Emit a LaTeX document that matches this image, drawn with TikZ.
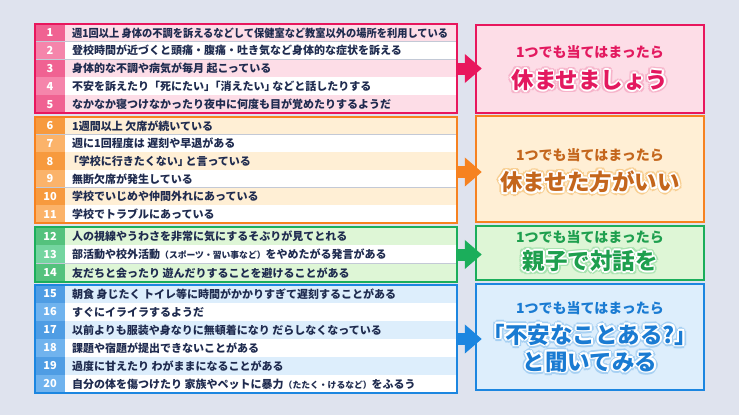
\documentclass[tikz,border=0pt]{standalone}
\usepackage{fontspec}
\setmainfont{Noto Sans CJK JP}
\usetikzlibrary{arrows.meta}
\definecolor{bg}{HTML}{DFE3EE}
\definecolor{navy}{HTML}{1F2B4F}
\definecolor{sepc}{HTML}{C3C9D6}
\definecolor{pinkB}{HTML}{E8175D}
\definecolor{pinkN1}{HTML}{F06292}
\definecolor{pinkN2}{HTML}{F585AB}
\definecolor{pinkL}{HTML}{FDDDE7}
\definecolor{pinkT}{HTML}{E3195F}
\definecolor{pinkH}{HTML}{F7B3CA}
\definecolor{orangeB}{HTML}{F68220}
\definecolor{orangeN1}{HTML}{F79A3E}
\definecolor{orangeN2}{HTML}{FBB36A}
\definecolor{orangeL}{HTML}{FFEFD5}
\definecolor{orangeT}{HTML}{C4661C}
\definecolor{orangeH}{HTML}{F8CD8E}
\definecolor{greenB}{HTML}{1BAE5B}
\definecolor{greenN1}{HTML}{54C27D}
\definecolor{greenN2}{HTML}{74D5A0}
\definecolor{greenL}{HTML}{DEF6D6}
\definecolor{greenT}{HTML}{1E9F4E}
\definecolor{greenH}{HTML}{A8E4B0}
\definecolor{blueB}{HTML}{1C86E0}
\definecolor{blueN1}{HTML}{4F9DE4}
\definecolor{blueN2}{HTML}{70B3EE}
\definecolor{blueL}{HTML}{DDEEFC}
\definecolor{blueT}{HTML}{1A7BD2}
\definecolor{blueH}{HTML}{A6D0F3}
\tikzset{
  numtxt/.style={text=white,font=\bfseries\fontsize{11}{12}\selectfont,inner sep=0pt},
  itemtxt/.style={text=navy,font=\bfseries\fontsize{11}{12}\selectfont,anchor=west,inner sep=0pt},
  sep/.style={draw=sepc,line width=0.7pt},
  grpbox/.style={draw=#1,line width=2.4pt,inner sep=0pt},
  resbox/.style={draw=#1,line width=2.4pt,inner sep=0pt},
  smalltxt/.style={text=#1,font=\bfseries\fontsize{14}{16}\selectfont,inner sep=0pt},
  bigtxt/.style={text=#1,font=\bfseries\fontsize{22.5}{27}\selectfont,inner sep=0pt,align=center},
  fatarrow/.style={draw=#1,line width=12pt,-{Triangle[length=17pt,width=28pt,fill=#1]},shorten >=-7pt}
}
\newcommand\itemrow[6]{%
  \fill[#4] (65,#1) rectangle (457,#1+#2);
  \fill[#3] (35,#1) rectangle (65,#1+#2);
  \node[numtxt] (n#5) at (50,#1+#2/2) {#5};
  \node[itemtxt] (t#5) at (72,#1+#2/2) {#6};
  \draw[sep] (35,#1+#2) -- (457,#1+#2);
}
\newcommand\halotext[7]{%
  \foreach \a in {0,30,...,330}{\path (#2,#3) ++(\a:3.4) node[bigtxt=#4] {#7};}
  \foreach \a in {0,45,...,315}{\path (#2,#3) ++(\a:1.9) node[bigtxt=#5] {#7};}
  \node[bigtxt=#6] (#1) at (#2,#3) {#7};
}
\newcommand\smallp[1]{{\fontsize{8.8}{10}\selectfont #1}}
\begin{document}
\begin{tikzpicture}[x=1pt,y=-1pt]
\useasboundingbox[fill=bg] (0,0) rectangle (739,415);
% group 1
\itemrow{24}{17.8}{pinkN1}{pinkL}{1}{\scalebox{0.93}[1]{週1回以上 身体の不調を訴えるなどして保健室など教室以外の場所を利用している}}
\itemrow{41.8}{17.8}{pinkN2}{white}{2}{登校時間が近づくと頭痛・腹痛・吐き気など身体的な症状を訴える}
\itemrow{59.6}{17.8}{pinkN1}{pinkL}{3}{身体的な不調や病気が毎月 起こっている}
\itemrow{77.4}{17.8}{pinkN2}{white}{4}{不安を訴えたり「死にたい」\kern-0.5em「消えたい」\kern-0.3emなどと話したりする}
\itemrow{95.2}{17.8}{pinkN1}{pinkL}{5}{なかなか寝つけなかったり夜中に何度も目が覚めたりするようだ}
\node[grpbox=pinkB,minimum width=422pt,minimum height=89pt] (g1) at (246,68.5) {};
% group 2
\itemrow{117}{17.67}{orangeN1}{orangeL}{6}{1週間以上 欠席が続いている}
\itemrow{134.67}{17.67}{orangeN2}{white}{7}{週に1回程度は 遅刻や早退がある}
\itemrow{152.33}{17.67}{orangeN1}{orangeL}{8}{\kern-0.4em「学校に行きたくない」\kern-0.3emと言っている}
\itemrow{170}{17.67}{orangeN2}{white}{9}{無断欠席が発生している}
\itemrow{187.67}{17.67}{orangeN1}{orangeL}{10}{学校でいじめや仲間外れにあっている}
\itemrow{205.33}{17.67}{orangeN2}{white}{11}{学校でトラブルにあっている}
\node[grpbox=orangeB,minimum width=422pt,minimum height=106pt] (g2) at (246,170) {};
% group 3
\itemrow{227}{18.33}{greenN1}{greenL}{12}{人の視線やうわさを非常に気にするそぶりが見てとれる}
\itemrow{245.33}{18.33}{greenN2}{white}{13}{部活動や校外活動\smallp{（スポーツ・習い事など）}をやめたがる発言がある}
\itemrow{263.67}{18.33}{greenN1}{greenL}{14}{友だちと会ったり 遊んだりすることを避けることがある}
\node[grpbox=greenB,minimum width=422pt,minimum height=55pt] (g3) at (246,254.5) {};
% group 4
\itemrow{285}{18}{blueN1}{blueL}{15}{朝食 身じたく トイレ等に時間がかかりすぎて遅刻することがある}
\itemrow{303}{18}{blueN2}{white}{16}{すぐにイライラするようだ}
\itemrow{321}{18}{blueN1}{blueL}{17}{以前よりも服装や身なりに無頓着になり だらしなくなっている}
\itemrow{339}{18}{blueN2}{white}{18}{課題や宿題が提出できないことがある}
\itemrow{357}{18}{blueN1}{blueL}{19}{過度に甘えたり わがままになることがある}
\itemrow{375}{18}{blueN2}{white}{20}{自分の体を傷つけたり 家族やペットに暴力\smallp{（たたく・けるなど）}をふるう}
\node[grpbox=blueB,minimum width=422pt,minimum height=108pt] (g4) at (246,339) {};
% result boxes
\node[resbox=pinkB,fill=pinkL,minimum width=228pt,minimum height=88pt] (r1) at (590,69) {};
\node[resbox=orangeB,fill=orangeL,minimum width=228pt,minimum height=106pt] (r2) at (590,169) {};
\node[resbox=greenB,fill=greenL,minimum width=228pt,minimum height=54pt] (r3) at (590,253) {};
\node[resbox=blueB,fill=blueL,minimum width=228pt,minimum height=106pt] (r4) at (590,337) {};
\node[smalltxt=pinkT] (s1) at (590,52) {1つでも当てはまったら};
\node[smalltxt=orangeT] (s2) at (590,155) {1つでも当てはまったら};
\node[smalltxt=greenT] (s3) at (590,237) {1つでも当てはまったら};
\node[smalltxt=blueT] (s4) at (590,308) {1つでも当てはまったら};
\halotext{b1}{590}{80}{pinkH}{white}{pinkT}{休ませましょう}
\halotext{b2}{590}{182}{orangeH}{white}{orangeT}{休ませた方がいい}
\halotext{b3}{590}{261}{greenH}{white}{greenT}{親子で対話を}
\halotext{b4}{590}{348}{blueH}{white}{blueT}{「不安なことある?」\\と聞いてみる}
% arrows
\draw[fatarrow=pinkB] (g1.east) -- (g1.east -| r1.west);
\draw[fatarrow=orangeB] ([yshift=-2pt]g2.east) -- ([yshift=-2pt]g2.east -| r2.west);
\draw[fatarrow=greenB] (g3.east) -- (g3.east -| r3.west);
\draw[fatarrow=blueB] (g4.east) -- (g4.east -| r4.west);
\end{tikzpicture}
\end{document}
